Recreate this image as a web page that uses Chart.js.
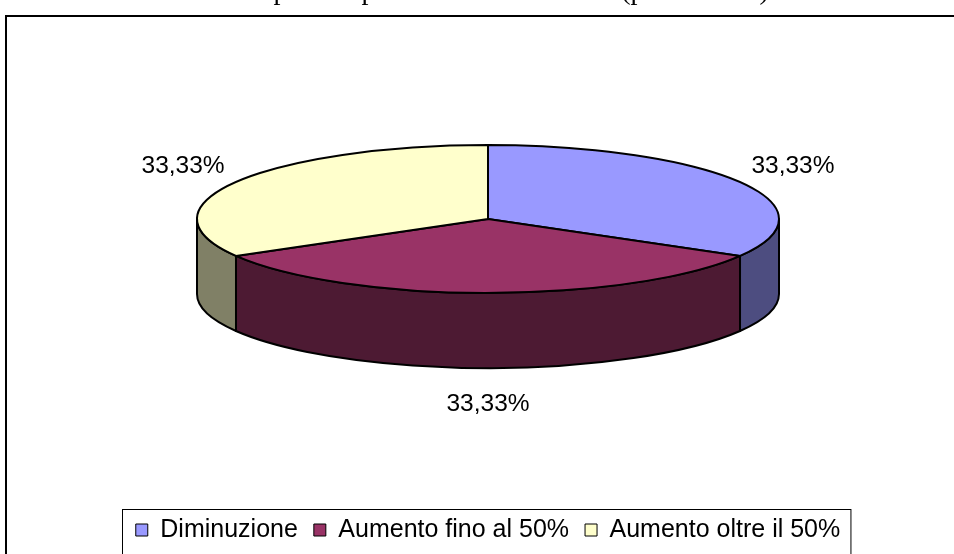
<!DOCTYPE html>
<html lang="it">
<head>
<meta charset="utf-8">
<title>Variazione sportelli</title>
<script src="https://cdn.jsdelivr.net/npm/chart.js@4.4.0/dist/chart.umd.min.js"></script>
<style>
  html, body { margin: 0; padding: 0; background: #fff; }
  #contenitore { position: relative; width: 954px; height: 554px; overflow: hidden; }
</style>
</head>
<body>
<div id="contenitore"><canvas id="chartTorta"></canvas></div>
<script>
/* Dati della torta */
const categorie = ["Diminuzione", "Aumento fino al 50%", "Aumento oltre il 50%"];
const percentuali = [33.33, 33.33, 33.33];
const coloriFaccia = ["#9999FF", "#993366", "#FFFFCC"];
const coloriLato = ["#4D4D80", "#4D1A33", "#808066"];
const titolo = "Numero di sportelli per i cittadini residenti (percentuale)";

/* Proporzioni della torta 3D */
const INCLINAZIONE = 0.254; // raggio verticale / raggio orizzontale
const SPESSORE = 0.258; // altezza del bordo / raggio orizzontale

const formatoPct = (v) => v.toFixed(2).replace(".", ",") + "%";

/* Geometria comune: centro e raggi presi dagli archi calcolati da Chart.js */
const geometria = (chart) => {
  const archi = chart.getDatasetMeta(0).data;
  const { x, y, outerRadius } = archi[0].getProps(["x", "y", "outerRadius"], true);
  const rx = outerRadius;
  const ry = rx * INCLINAZIONE;
  const prof = rx * SPESSORE;
  return { archi, x, cy: y - prof / 2, rx, ry, prof };
};

/* Disegna la torta in prospettiva al posto degli archi piatti */
const torta3d = {
  id: "torta3d",
  beforeDatasetsDraw(chart) {
    const ctx = chart.ctx;
    const { archi, x, cy, rx, ry, prof } = geometria(chart);
    ctx.save();
    ctx.lineWidth = 2;
    ctx.strokeStyle = "#000";
    ctx.lineJoin = "round";

    // bordo laterale, solo la meta' davanti (angoli tra 0 e PI)
    archi.forEach((arco, i) => {
      [0, 2 * Math.PI].forEach((giro) => {
        const a0 = Math.max(arco.startAngle, giro);
        const a1 = Math.min(arco.endAngle, giro + Math.PI);
        if (a1 <= a0) return;
        ctx.beginPath();
        ctx.ellipse(x, cy, rx, ry, 0, a0, a1);
        ctx.ellipse(x, cy + prof, rx, ry, 0, a1, a0, true);
        ctx.closePath();
        ctx.fillStyle = coloriLato[i];
        ctx.fill();
        ctx.stroke();
      });
    });

    // facce superiori
    archi.forEach((arco, i) => {
      ctx.beginPath();
      ctx.moveTo(x, cy);
      ctx.ellipse(x, cy, rx, ry, 0, arco.startAngle, arco.endAngle);
      ctx.closePath();
      ctx.fillStyle = coloriFaccia[i];
      ctx.fill();
      ctx.stroke();
    });
    ctx.restore();
    return false;
  },
  afterDraw(chart) {
    // etichette con la percentuale fuori dalla torta
    const ctx = chart.ctx;
    const { archi, x, cy, rx, ry, prof } = geometria(chart);
    ctx.save();
    ctx.font = '24.5px "Liberation Sans", Arial, sans-serif';
    ctx.fillStyle = "#000";
    ctx.textAlign = "center";
    ctx.textBaseline = "middle";
    archi.forEach((arco, i) => {
      const medio = (arco.startAngle + arco.endAngle) / 2;
      const s = Math.sin(medio);
      const lx = x + rx * 1.21 * Math.cos(medio);
      const ly = cy + ry * 1.42 * s + (s > 0.01 ? prof + 5 : 0);
      ctx.fillText(formatoPct(percentuali[i]), lx, ly);
    });
    ctx.restore();
  },
};

/* Cornice, titolo e riquadro della legenda */
const cornice = {
  id: "cornice",
  beforeDraw(chart) {
    const ctx = chart.ctx;
    ctx.save();
    ctx.fillStyle = "#fff";
    ctx.fillRect(0, 0, chart.width, chart.height);
    ctx.font = '28px "Liberation Serif", "Times New Roman", serif';
    ctx.fillStyle = "#000";
    ctx.textAlign = "center";
    ctx.textBaseline = "alphabetic";
    ctx.fillText(titolo, 452, -1);
    ctx.lineWidth = 2;
    ctx.strokeStyle = "#000";
    ctx.strokeRect(6, 16, chart.width + 20, chart.height + 20);
    ctx.restore();
  },
  afterDraw(chart) {
    const box = chart.legend.legendHitBoxes;
    if (!box || !box.length) return;
    const sx = Math.min(...box.map((b) => b.left)) - 14;
    const dx = Math.max(...box.map((b) => b.left + b.width)) + 10;
    const top = box[0].top - 8.5;
    const ctx = chart.ctx;
    ctx.save();
    ctx.lineWidth = 1;
    ctx.strokeStyle = "#000";
    ctx.strokeRect(Math.round(sx) + 0.5, Math.round(top) + 0.5, dx - sx, 200);
    ctx.restore();
  },
};

const canvas = document.getElementById("chartTorta");
const context = canvas.getContext("2d");

const chartTorta = new Chart(context, {
  type: "pie",
  data: {
    labels: categorie,
    datasets: [
      {
        label: "Variazione",
        data: percentuali,
        backgroundColor: coloriFaccia,
        borderColor: "#000",
        borderWidth: 1,
        radius: 291,
      },
    ],
  },
  options: {
    responsive: true,
    maintainAspectRatio: false,
    animation: false,
    layout: { padding: { top: 11.5, bottom: 1.5, left: 22, right: 0 } },
    plugins: {
      tooltip: { enabled: false },
      legend: {
        position: "bottom",
        labels: {
          boxWidth: 12,
          boxHeight: 12,
          padding: 16,
          color: "#000",
          font: { family: '"Liberation Sans", Arial, sans-serif', size: 25 },
        },
      },
    },
  },
  plugins: [torta3d, cornice],
});
</script>
</body>
</html>
